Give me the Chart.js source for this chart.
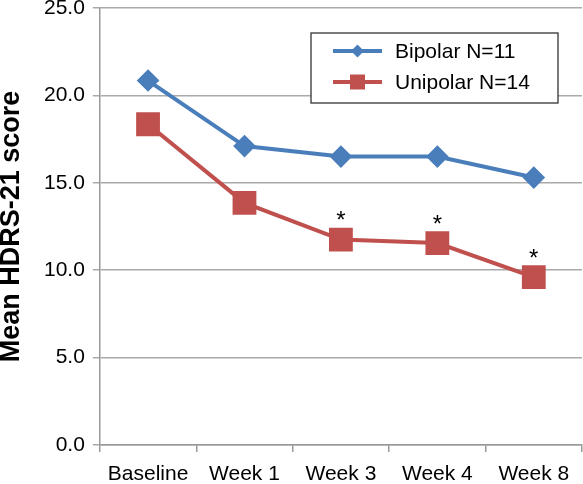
<!DOCTYPE html>
<html>
<head>
<meta charset="utf-8">
<script src="https://cdn.jsdelivr.net/npm/chart.js@4.4.1/dist/chart.umd.min.js"></script>
<style>
  html, body { margin: 0; padding: 0; background: #fff; }
  #wrap { width: 583px; height: 484px; }
</style>
</head>
<body>
<div id="wrap"><canvas id="hdrsChart"></canvas></div>
<script>
// --- DATA ---
const weeks = ['Baseline', 'Week 1', 'Week 3', 'Week 4', 'Week 8'];
const bipolar = [20.85, 17.1, 16.5, 16.5, 15.3];
const unipolar = [18.35, 13.85, 11.75, 11.55, 9.6];
const significant = [false, false, true, true, true]; // asterisks on unipolar
const yTicks = [0, 5, 10, 15, 20, 25];

const BLUE = '#4a7ebb';
const RED = '#c0504d';
const FONT = '"Liberation Sans", Arial, sans-serif';

// asterisks above the unipolar points
const starPlugin = {
    id: 'stars',
    afterDatasetsDraw(chart) {
        const meta = chart.getDatasetMeta(1);
        const ctx = chart.ctx;
        ctx.save();
        ctx.fillStyle = '#000';
        ctx.font = `24px ${FONT}`;
        ctx.textAlign = 'center';
        ctx.textBaseline = 'middle';
        meta.data.forEach((pt, i) => {
            if (significant[i]) ctx.fillText('*', pt.x, pt.y - 18);
        });
        ctx.restore();
    }
};

// boxed legend inside the plot, top right
const boxLegend = {
    id: 'boxLegend',
    afterDraw(chart) {
        const ctx = chart.ctx;
        const x = 311, y = 33, w = 247, h = 70;
        ctx.save();
        ctx.fillStyle = '#fff';
        ctx.fillRect(x, y, w, h);
        ctx.strokeStyle = '#333';
        ctx.lineWidth = 1.3;
        ctx.strokeRect(x, y, w, h);
        ctx.font = `21px ${FONT}`;
        ctx.textBaseline = 'middle';
        chart.data.datasets.forEach((ds, i) => {
            const cy = y + 18 + i * 31;
            ctx.strokeStyle = ds.borderColor;
            ctx.lineWidth = 4;
            ctx.beginPath();
            ctx.moveTo(x + 22, cy);
            ctx.lineTo(x + 71, cy);
            ctx.stroke();
            ctx.fillStyle = ds.backgroundColor;
            if (ds.pointStyle === 'rect') {
                ctx.fillRect(x + 39, cy - 7.5, 15, 15);
            } else {
                ctx.beginPath();
                ctx.moveTo(x + 46.5, cy - 6.5);
                ctx.lineTo(x + 53, cy);
                ctx.lineTo(x + 46.5, cy + 6.5);
                ctx.lineTo(x + 40, cy);
                ctx.closePath();
                ctx.fill();
            }
            ctx.fillStyle = '#000';
            ctx.fillText(ds.label, x + 84, cy + 1);
        });
        ctx.restore();
    }
};

const ctx = document.getElementById('hdrsChart').getContext('2d');
const hdrsChart = new Chart(ctx, {
    type: 'line',
    data: {
        labels: weeks,
        datasets: [
            {
                label: 'Bipolar N=11',
                data: bipolar,
                borderColor: BLUE,
                backgroundColor: BLUE,
                borderWidth: 4,
                pointStyle: 'rectRot',
                pointRadius: 8.5,
                pointHoverRadius: 8.5,
                tension: 0
            },
            {
                label: 'Unipolar N=14',
                data: unipolar,
                borderColor: RED,
                backgroundColor: RED,
                borderWidth: 4,
                pointStyle: 'rect',
                pointRadius: 14,
                pointHoverRadius: 14,
                tension: 0
            }
        ]
    },
    options: {
        responsive: true,
        maintainAspectRatio: false,
        animation: false,
        layout: { autoPadding: false, padding: { top: 0, right: 1, left: 0, bottom: 0 } },
        plugins: {
            legend: { display: false },
            tooltip: { enabled: false }
        },
        scales: {
            x: {
                offset: true,
                grid: {
                    offset: true,
                    drawOnChartArea: false,
                    color: '#999',
                    tickLength: 7,
                    lineWidth: 1.5
                },
                border: { color: '#999', width: 1.5 },
                ticks: { color: '#000', font: { family: FONT, size: 21, lineHeight: 1 }, padding: 12, maxRotation: 0 },
                afterFit: (scale) => { scale.height = 39; }
            },
            y: {
                min: 0,
                max: 25,
                afterBuildTicks: (axis) => { axis.ticks = yTicks.map(v => ({ value: v })); },
                afterFit: (scale) => { scale.paddingTop = 8; scale.paddingBottom = 8; },
                grid: { color: '#aaa', tickLength: 7, lineWidth: 1.5 },
                border: { color: '#999', width: 1.5 },
                ticks: {
                    color: '#000',
                    font: { family: FONT, size: 21, lineHeight: 0.8 },
                    padding: 8,
                    callback: (v) => Number(v).toFixed(1)
                },
                title: {
                    display: true,
                    text: 'Mean HDRS-21 score',
                    color: '#000',
                    font: { family: FONT, size: 27, weight: 'bold', lineHeight: 0.85 },
                    padding: { top: 0, bottom: 13 }
                }
            }
        }
    },
    plugins: [starPlugin, boxLegend]
});
</script>
</body>
</html>
